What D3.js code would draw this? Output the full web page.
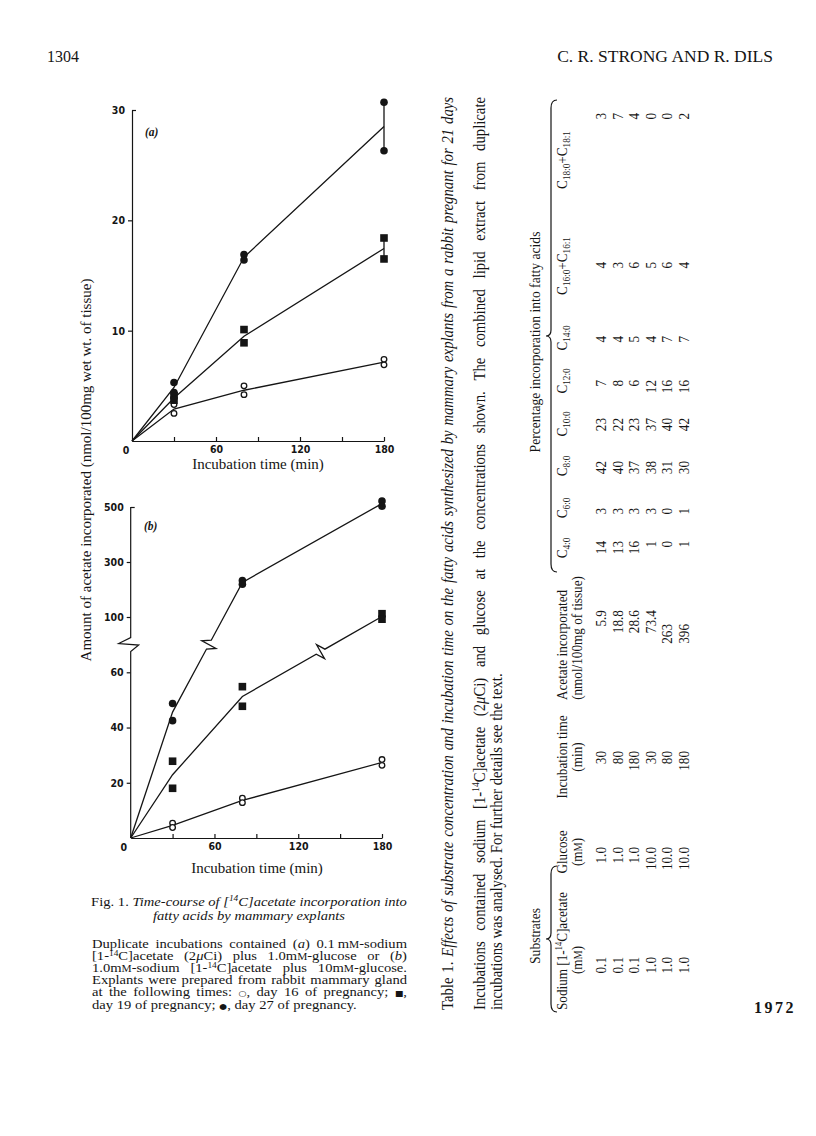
<!DOCTYPE html>
<html><head><meta charset="utf-8">
<script src="https://d3js.org/d3.v7.min.js"></script>
<style>html,body{margin:0;padding:0;background:#fff}svg{display:block}</style>
</head><body>
<svg id="page" width="816" height="1136" xmlns="http://www.w3.org/2000/svg"></svg>
<script>
// ================= DATA =================
const times = [30, 80, 180];
// duplicate incubations at each time (30, 80, 180 min)
const aOpenDay16   = [[3.3, 2.5], [5.0, 4.2], [7.4, 6.9]];
const aSquareDay19 = [[4.1, 3.7], [10.1, 8.9], [18.4, 16.5]];
const aFilledDay27 = [[5.3, 4.4], [16.9, 16.4], [30.7, 26.3]];
const bOpenDay16   = [[5.4, 3.8], [14.4, 12.8], [28.4, 26.3]];
const bSquareDay19 = [[27.8, 18.0], [54.8, 47.7], [112, 92]];
const bFilledDay27 = [[48.7, 42.5], [233, 219], [522, 503]];
const xTickValues = [30, 60, 90, 120, 150, 180];
const xTickLabels = [60, 120, 180];
const aYTickValues = [10, 20, 30];
const bLowTickValues = [20, 40, 60];
const bHighTickValues = [100, 300, 500];

// Table 1
const tblSodium  = ["0.1", "0.1", "0.1", "1.0", "1.0", "1.0"];
const tblGlucose = ["1.0", "1.0", "1.0", "10.0", "10.0", "10.0"];
const tblTime    = ["30", "80", "180", "30", "80", "180"];
const tblAcetate = ["5.9", "18.8", "28.6", "73.4", "263", "396"];
const fattyAcidLabels = ["C_4:0_", "C_6:0_", "C_8:0_", "C_10:0_", "C_12:0_", "C_14:0_", "C_16:0_+C_16:1_", "C_18:0_+C_18:1_"];
const tblC4  = [14, 13, 16, 1, 0, 1];
const tblC6  = [3, 3, 3, 3, 0, 1];
const tblC8  = [42, 40, 37, 38, 31, 30];
const tblC10 = [23, 22, 23, 37, 40, 42];
const tblC12 = [7, 8, 6, 12, 16, 16];
const tblC14 = [4, 4, 5, 4, 7, 7];
const tblC16 = [4, 3, 6, 5, 6, 4];
const tblC18 = [3, 7, 4, 0, 0, 2];

// Texts
const pageNumber = "1304";
const runningHead = "C. R. STRONG AND R. DILS";
const footerCode = "1972";
const yAxisTitle = "Amount of acetate incorporated (nmol/100mg wet wt. of tissue)";
const xAxisTitle = "Incubation time (min)";
const captionTitle = ["Fig. 1. *Time-course of [^14^C]acetate incorporation into*", "*fatty acids by mammary explants*"];
const captionBody = [
  "Duplicate incubations contained (*a*) 0.1\u2009m~M~-sodium",
  "[1-^14^C]acetate (2*\u03bc*Ci) plus 1.0m~M~-glucose or (*b*)",
  "1.0m~M~-sodium [1-^14^C]acetate plus 10m~M~-glucose.",
  "Explants were prepared from rabbit mammary gland",
  "at the following times: #\u25cb#, day 16 of pregnancy; #\u25a0#,",
  "day 19 of pregnancy; #\u25cf#, day 27 of pregnancy."
];
const tableTitle = "Table 1. *Effects of substrate concentration and incubation time on the fatty acids synthesized by mammary explants from a rabbit pregnant for 21 days*";
const tableNote = [
  "Incubations contained sodium [1-^14^C]acetate (2*\u03bc*Ci) and glucose at the concentrations shown. The combined lipid extract from duplicate",
  "incubations was analysed. For further details see the text."
];

// ================= STYLE =================
const INK = "#151515";
const SERIF = '"Liberation Serif", "Times New Roman", serif';
const TICKF = '"Liberation Sans Narrow", "DejaVu Sans Condensed", "Liberation Sans", sans-serif';
const SYM = '"DejaVu Sans", sans-serif';

const svg = d3.select("#page");
svg.append("rect").attr("width", 816).attr("height", 1136).attr("fill", "#fff");

// ---------- rich text helpers ----------
function parseRich(s) {
  const chars = []; let st = {it:false, sup:false, sub:false, sc:false, sym:false};
  for (const ch of s) {
    if (ch === "*") { st = {...st, it: !st.it}; continue; }
    if (ch === "^") { st = {...st, sup: !st.sup}; continue; }
    if (ch === "_") { st = {...st, sub: !st.sub}; continue; }
    if (ch === "~") { st = {...st, sc: !st.sc}; continue; }
    if (ch === "#") { st = {...st, sym: !st.sym}; continue; }
    chars.push({ch, st});
  }
  return chars;
}
function charsToRuns(chars) {
  const runs = [];
  chars.forEach(c => {
    const last = runs[runs.length - 1];
    if (last && last.st === c.st) last.t += c.ch; else runs.push({t: c.ch, st: c.st});
  });
  return runs;
}
function fillRuns(text, runs, fs) {
  let shift = 0;
  runs.forEach(r => {
    const ts = text.append("tspan").text(r.t);
    const s = r.st;
    if (s.it) ts.attr("font-style", "italic");
    let target = 0, size = fs;
    if (s.sup) { target = -0.36 * fs; size = fs * 0.64; }
    if (s.sub) { target = 0.22 * fs; size = fs * 0.7; }
    if (s.sc) size = fs * 0.78;
    if (s.sym) { size = fs * 0.62; ts.attr("font-family", SYM); }
    if (size !== fs) ts.attr("font-size", size);
    if (target !== shift) { ts.attr("dy", target - shift); shift = target; }
  });
}
function measure(g, runs, fs) {
  const t = g.append("text").attr("font-size", fs);
  fillRuns(t, runs, fs);
  const w = t.node().getComputedTextLength();
  t.remove();
  return w;
}
function richText(g, str, x, y, fs, anchor) {
  const t = g.append("text").attr("x", x).attr("y", y).attr("font-size", fs).attr("text-anchor", anchor || "start");
  fillRuns(t, charsToRuns(parseRich(str)), fs);
  return t;
}
function layoutLine(g0, str, x0, width, y, fs, justify, sy) {
  const g = (sy && sy !== 1) ? g0.append("g").attr("transform", `translate(0,${y}) scale(1,${sy})`) : g0;
  const yy = (sy && sy !== 1) ? 0 : y;
  const chars = parseRich(str);
  const words = []; let cur = [];
  chars.forEach(c => { if (c.ch === " ") { if (cur.length) words.push(cur); cur = []; } else cur.push(c); });
  if (cur.length) words.push(cur);
  const wr = words.map(charsToRuns);
  const widths = wr.map(r => measure(g, r, fs));
  const sum = d3.sum(widths);
  const gap = (justify && words.length > 1) ? (width - sum) / (words.length - 1) : fs * 0.25;
  let x = x0;
  wr.forEach((r, i) => {
    const t = g.append("text").attr("x", x).attr("y", yy).attr("font-size", fs);
    fillRuns(t, r, fs);
    x += widths[i] + gap;
  });
}

// ---------- header / footer ----------
const head = svg.append("g").attr("font-family", SERIF).attr("fill", INK);
head.append("text").attr("x", 47).attr("y", 62).attr("font-size", 16).text(pageNumber);
head.append("text").attr("x", 773).attr("y", 62).attr("font-size", 17.5).attr("text-anchor", "end").text(runningHead);
head.append("text").attr("x", 796).attr("y", 1013).attr("font-size", 16).attr("font-weight", "bold").attr("text-anchor", "end").attr("letter-spacing", 2.5).text(footerCode);

// ---------- chart helpers ----------
function styleAxis(g) {
  g.attr("font-family", null).attr("font-size", null);
  g.selectAll(".domain").attr("stroke", INK).attr("stroke-width", 1.2);
  g.selectAll(".tick line").attr("stroke", INK).attr("stroke-width", 1.2);
  g.selectAll(".tick text").attr("fill", INK).attr("font-family", TICKF).attr("font-weight", "bold").attr("font-size", 10.5);
}
function drawMarkers(g, shape, pts) {
  if (shape === "square") {
    g.selectAll(null).data(pts).join("rect")
      .attr("x", d => d[0] - 3.8).attr("y", d => d[1] - 3.8).attr("width", 7.6).attr("height", 7.6).attr("fill", INK);
  } else {
    g.selectAll(null).data(pts).join("circle")
      .attr("cx", d => d[0]).attr("cy", d => d[1]).attr("r", shape === "open" ? 2.8 : 3.8)
      .attr("fill", shape === "open" ? "#fff" : INK).attr("stroke", shape === "open" ? INK : "none").attr("stroke-width", 1.3);
  }
}
function seriesPath(pts, zig) {
  let d = `M${pts[0][0]},${pts[0][1]}`;
  for (let i = 1; i < pts.length; i++) {
    const p0 = pts[i - 1], p1 = pts[i];
    if (zig && zig.seg === i - 1) {
      const dx = p1[0] - p0[0], dy = p1[1] - p0[1], L = Math.hypot(dx, dy);
      const ux = dx / L, uy = dy / L, nx = -uy, ny = ux;
      const cx = p0[0] + dx * zig.t, cy = p0[1] + dy * zig.t;
      d += `L${cx - 5 * ux},${cy - 5 * uy}L${cx + 8 * nx},${cy + 8 * ny}L${cx - 8 * nx},${cy - 8 * ny}L${cx + 5 * ux},${cy + 5 * uy}`;
    }
    d += `L${p1[0]},${p1[1]}`;
  }
  return d;
}

// ================= PANEL (a) =================
const xa = d3.scaleLinear().domain([0, 180]).range([132, 384]);
const ya = d3.scaleLinear().domain([0, 30]).range([441, 110]);
const gA = svg.append("g");
const xAxA = gA.append("g").attr("transform", `translate(0,${ya(0)})`)
  .call(d3.axisBottom(xa).tickValues(xTickValues).tickSizeInner(-4).tickSizeOuter(0).tickPadding(5)
    .tickFormat(d => xTickLabels.includes(d) ? d : ""));
styleAxis(xAxA);
const yAxA = gA.append("g").attr("transform", `translate(${xa(0)},0)`)
  .call(d3.axisLeft(ya).tickValues(aYTickValues).tickSizeInner(4).tickSizeOuter(0).tickPadding(3));
styleAxis(yAxA);
yAxA.selectAll(".tick").filter(d => d === 30).select("line").attr("x2", 4);
gA.append("text").attr("x", xa(0) - 6).attr("y", ya(0) + 13).attr("text-anchor", "middle")
  .attr("font-family", TICKF).attr("font-weight", "bold").attr("font-size", 10.5).attr("fill", INK).text("0");
gA.append("text").attr("x", 145).attr("y", 136).attr("font-family", SERIF).attr("font-weight", "bold")
  .attr("font-style", "italic").attr("font-size", 11.5).attr("fill", INK).text("(a)");

const seriesA = [
  {shape: "open", vals: aOpenDay16},
  {shape: "square", vals: aSquareDay19},
  {shape: "filled", vals: aFilledDay27}
];
seriesA.forEach(s => {
  const pts = [[xa(0), ya(0)]].concat(times.map((t, i) => [xa(t), ya(d3.mean(s.vals[i]))]));
  gA.append("path").attr("d", seriesPath(pts)).attr("fill", "none").attr("stroke", INK).attr("stroke-width", 1.3);
  const last = s.vals[s.vals.length - 1];
  gA.append("line").attr("x1", xa(180)).attr("x2", xa(180)).attr("y1", ya(last[0])).attr("y2", ya(last[1]))
    .attr("stroke", INK).attr("stroke-width", 1.3);
});
seriesA.forEach(s => {
  const mpts = [];
  times.forEach((t, i) => s.vals[i].forEach(v => mpts.push([xa(t), ya(v)])));
  drawMarkers(gA, s.shape, mpts);
});
gA.append("text").attr("x", 258).attr("y", 469).attr("text-anchor", "middle").attr("font-family", SERIF)
  .attr("font-size", 15).attr("fill", INK).text(xAxisTitle);

// ================= PANEL (b) =================
const xb = d3.scaleLinear().domain([0, 180]).range([130.7, 382]);
const ybLow = d3.scaleLinear().domain([0, 60]).range([838, 672.3]);
const ybHigh = d3.scaleLinear().domain([100, 500]).range([617, 507]);
const breakValue = 75;
const yb = v => v < breakValue ? ybLow(v) : ybHigh(v);
const gB = svg.append("g");
const xAxB = gB.append("g").attr("transform", `translate(0,${ybLow(0)})`)
  .call(d3.axisBottom(xb).tickValues(xTickValues).tickSizeInner(-4).tickSizeOuter(0).tickPadding(5)
    .tickFormat(d => xTickLabels.includes(d) ? d : ""));
styleAxis(xAxB);
const yAxBLow = gB.append("g").attr("transform", `translate(${xb(0)},0)`)
  .call(d3.axisLeft(ybLow).tickValues(bLowTickValues).tickSizeInner(4).tickSizeOuter(0).tickPadding(3));
styleAxis(yAxBLow);
const yAxBHigh = gB.append("g").attr("transform", `translate(${xb(0)},0)`)
  .call(d3.axisLeft(ybHigh).tickValues(bHighTickValues).tickSizeInner(4).tickSizeOuter(0).tickPadding(3));
styleAxis(yAxBHigh);
yAxBLow.select(".domain").remove();
yAxBHigh.select(".domain").remove();
yAxBHigh.selectAll(".tick").filter(d => d === 500).select("line").attr("x2", 4);
const bx0 = xb(0);
gB.append("path").attr("fill", "none").attr("stroke", INK).attr("stroke-width", 1.2)
  .attr("d", `M${bx0},${ybLow(0)}L${bx0},${ybLow(67.5)}L${bx0 + 8},${ybLow(67.5) - 6.5}L${bx0 - 12},${ybLow(67.5) - 8}L${bx0},${ybLow(67.5) - 14}L${bx0},${ybHigh(500)}`);
gB.append("text").attr("x", bx0 - 7).attr("y", ybLow(0) + 13).attr("text-anchor", "middle")
  .attr("font-family", TICKF).attr("font-weight", "bold").attr("font-size", 10.5).attr("fill", INK).text("0");
gB.append("text").attr("x", 144).attr("y", 530).attr("font-family", SERIF).attr("font-weight", "bold")
  .attr("font-style", "italic").attr("font-size", 11.5).attr("fill", INK).text("(b)");

const seriesB = [
  {shape: "open", vals: bOpenDay16, zigT: 0.5},
  {shape: "square", vals: bSquareDay19, zigT: 0.56},
  {shape: "filled", vals: bFilledDay27, zigT: 0.52}
];
seriesB.forEach(s => {
  const means = [0].concat(times.map((t, i) => d3.mean(s.vals[i])));
  const tt = [0].concat(times);
  const pts = tt.map((t, i) => [xb(t), yb(means[i])]);
  let zig = null;
  for (let i = 1; i < means.length; i++) {
    if ((means[i - 1] < breakValue) !== (means[i] < breakValue)) zig = {seg: i - 1, t: s.zigT};
  }
  gB.append("path").attr("d", seriesPath(pts, zig)).attr("fill", "none").attr("stroke", INK)
    .attr("stroke-width", 1.3).attr("stroke-linejoin", "miter");
});
seriesB.forEach(s => {
  const mpts = [];
  times.forEach((t, i) => s.vals[i].forEach(v => mpts.push([xb(t), yb(v)])));
  drawMarkers(gB, s.shape, mpts);
});
gB.append("text").attr("x", 257).attr("y", 873).attr("text-anchor", "middle").attr("font-family", SERIF)
  .attr("font-size", 15).attr("fill", INK).text(xAxisTitle);

// shared y-axis title
svg.append("text").attr("transform", "translate(91,470) rotate(-90)").attr("text-anchor", "middle")
  .attr("font-family", SERIF).attr("font-size", 15).attr("fill", INK).text(yAxisTitle);

// ================= CAPTION =================
const CFS = 14.6, CSY = 0.86;
const cap = svg.append("g").attr("font-family", SERIF).attr("fill", INK);
[906, 920].forEach((y, i) => {
  const g = cap.append("g").attr("transform", `translate(249,${y}) scale(1,${CSY})`);
  richText(g, captionTitle[i], 0, 0, CFS, "middle");
});
captionBody.forEach((s, i) => layoutLine(cap, s, 92, 315, 948 + i * 12.1, CFS, i < captionBody.length - 1, CSY));

// ================= TABLE (rotated) =================
// The scanned table is slightly compressed along the page's vertical direction,
// i.e. along the reading direction of the rotated text: emulate with an x-scale.
const NFS = 16, NS = 0.92;   // table title & notes
const GFS = 15.5;            // group labels (in body group)
const TFS = 15, BS = 0.88;   // table body
const T = svg.append("g").attr("transform", "rotate(-90)").attr("font-family", SERIF).attr("fill", INK);
const TN = T.append("g").attr("transform", `scale(${NS},1)`);
const TB = T.append("g").attr("transform", `scale(${BS},1)`);
const LN = py => -py / NS;  // page y -> local x (notes group)
const LB = py => -py / BS;  // page y -> local x (body group)
const X_TITLE = 453, X_NOTE1 = 485, X_NOTE2 = 502, X_GROUP = 540, X_BRACE = 551, H1 = 567, H2 = 582;
layoutLine(TN, tableTitle, LN(1010), 913 / NS, X_TITLE, NFS, true);
layoutLine(TN, tableNote[0], LN(1010), 913 / NS, X_NOTE1, NFS, true);
layoutLine(TN, tableNote[1], LN(1010), 0, X_NOTE2, NFS, false);

richText(TB, "Substrates", LB(936), X_GROUP, GFS, "middle");
richText(TB, "Percentage incorporation into fatty acids", LB(342), X_GROUP, GFS, "middle");

function brace(g, y1, y2, v) { // page y range, page x of brace line
  const u1 = -y2, u2 = -y1, m = (u1 + u2) / 2;
  g.append("path").attr("fill", "none").attr("stroke", INK).attr("stroke-width", 1.2)
    .attr("d", `M${u1},${v + 6}Q${u1},${v} ${u1 + 8},${v}L${m - 6},${v}Q${m},${v} ${m},${v - 5}Q${m},${v} ${m + 6},${v}L${u2 - 8},${v}Q${u2},${v} ${u2},${v + 6}`);
}
brace(T, 866, 1012, X_BRACE);
brace(T, 100, 572, X_BRACE);

richText(TB, "Sodium [1-^14^C]acetate", LB(1010), H1, TFS, "start");
richText(TB, "(m~M~)", LB(960), H2, TFS, "middle");
richText(TB, "Glucose", LB(852), H1, TFS, "middle");
richText(TB, "(m~M~)", LB(852), H2, TFS, "middle");
richText(TB, "Incubation time", LB(757), H1, TFS, "middle");
richText(TB, "(min)", LB(757), H2, TFS, "middle");
richText(TB, "Acetate incorporated", LB(645), H1, TFS, "middle");
richText(TB, "(nmol/100mg of tissue)", LB(638), H2, TFS, "middle");
const faCenters = [548, 508, 466, 424, 381, 338, 266, 160];
fattyAcidLabels.forEach((lab, i) => richText(TB, lab, LB(faCenters[i]), H1, TFS, "middle"));

const rowX = d3.scaleLinear().domain([0, 5]).range([606, 689]);
function endColumn(vals, yEnd) {
  TB.selectAll(null).data(vals).join("text")
    .attr("x", LB(yEnd)).attr("y", (d, i) => rowX(i)).attr("font-size", TFS).attr("text-anchor", "end").text(d => d);
}
endColumn(tblSodium, 957);
endColumn(tblGlucose, 847);
endColumn(tblTime, 751);
// acetate: decimal aligned
const decY = 620;
TB.selectAll(null).data(tblAcetate).join("text")
  .attr("x", d => d.includes(".") ? LB(decY) : LB(decY + 4)).attr("y", (d, i) => rowX(i))
  .attr("font-size", TFS).attr("text-anchor", "end").text(d => d.split(".")[0]);
TB.selectAll(null).data(tblAcetate.filter(d => d.includes("."))).join("text")
  .attr("x", LB(decY)).attr("y", d => rowX(tblAcetate.indexOf(d)))
  .attr("font-size", TFS).attr("text-anchor", "start").text(d => "." + d.split(".")[1]);
const faCols = [tblC4, tblC6, tblC8, tblC10, tblC12, tblC14, tblC16, tblC18];
const faEnds = [541, 508, 461, 418, 380, 336, 262, 113];
faCols.forEach((col, j) => endColumn(col, faEnds[j]));
</script>
</body></html>
